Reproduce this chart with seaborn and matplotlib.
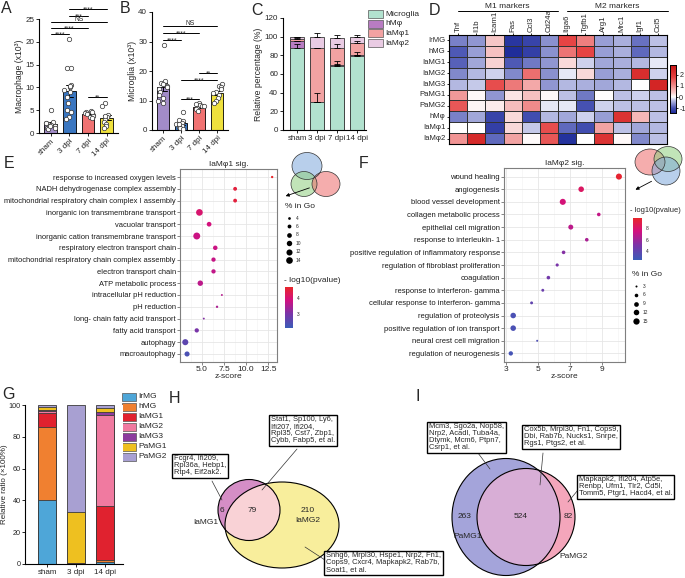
import numpy as np
import pandas as pd
import matplotlib
matplotlib.use("Agg")
import matplotlib.pyplot as plt
import seaborn as sns
from matplotlib.patches import Ellipse, Rectangle
from matplotlib.colors import LinearSegmentedColormap, Normalize
from matplotlib.cm import ScalarMappable
from matplotlib.ticker import MultipleLocator

# ---------------- data ----------------
groups = ["sham", "3 dpi", "7 dpi", "14 dpi"]
group_colors = ["#a28cc8", "#3a76c0", "#f07272", "#efe13d"]

mac_sham = [5.0, 2.5, 2.0, 1.8, 1.5, 1.2, 1.0, 0.8, 2.2, 1.6, 2.3]
mac_3dpi = [20.7, 14.3, 14.3, 10.5, 10.0, 9.5, 9.0, 8.0, 6.5, 5.0, 4.5, 3.5, 3.0, 10.2]
mac_7dpi = [4.8, 4.5, 4.3, 4.2, 4.0, 3.8, 3.5, 3.2, 4.6]
mac_14dpi = [6.5, 6.0, 4.0, 3.5, 3.0, 2.5, 2.0, 1.5, 1.0, 3.8]
sig_A = [(1, 3, 27.2, "****"), (1, 2, 25.7, "***"), (0, 3, 24.4, "NS"),
         (0, 2, 23.0, "****"), (0, 1, 21.7, "****"), (2, 3, 7.8, "**")]

mg_sham = [28.7, 16.5, 16.0, 15.5, 15.0, 14.5, 14.0, 13.0, 12.0, 11.0, 10.0, 9.0]
mg_3dpi = [6.0, 3.5, 3.0, 2.5, 2.0, 1.5, 1.0, 0.8, 2.2, 0.5]
mg_7dpi = [9.0, 8.8, 8.5, 8.0, 7.5, 7.0, 6.5, 8.2]
mg_14dpi = [15.5, 15.0, 14.5, 14.0, 13.0, 12.5, 12.0, 11.0, 10.0, 9.0]
sig_B = [(0, 3, 35.3, "NS"), (0, 2, 32.9, "****"), (0, 1, 30.5, "****"),
         (2, 3, 19.3, "**"), (1, 3, 16.9, "****"), (1, 2, 10.5, "***")]

C_layers = ["Microglia", "hMφ", "IaMφ1", "IaMφ2"]
C_colors = ["#b2e2cf", "#b87cc2", "#f2a2a2", "#e9cbe3"]
C_microglia = [88.0, 29.5, 69.0, 79.0]
C_hmf = [7.0, 0.5, 1.0, 1.0]
C_iamf1 = [3.0, 57.5, 18.0, 13.5]
C_iamf2 = [1.5, 12.0, 11.0, 6.0]
C_err_microglia = [4.0, 10.5, 4.5, 4.5]
C_err_hmf = [0.5, 0.3, 0.5, 0.5]
C_err_iamf1 = [0.5, 0.5, 4.0, 1.5]
C_err_iamf2 = [0.6, 4.5, 2.5, 2.5]

hm_rows = ["IrMG", "hMG", "IaMG1", "IaMG2", "IaMG3", "PaMG1", "PaMG2", "hMφ", "IaMφ1", "IaMφ2"]
hm_genes = ["Tnf", "Il1b", "Icam1", "Fas", "Ccl3", "Cd24a", "Itga6", "Tgfb1", "Arg1", "Mrc1", "Igf1", "Ccl5"]
z_IrMG = [-0.7, -0.55, 0.45, -1.3, -1.15, -0.6, 1.8, 1.2, -0.5, -0.4, -0.8, -0.3]
z_hMG = [-0.95, -0.5, 0.5, -1.4, -1.2, -0.6, 1.3, 1.8, -0.5, -0.4, -0.85, -0.35]
z_IaMG1 = [-0.9, -0.45, 0.35, -0.95, -0.75, -0.55, 0.3, -0.2, -0.45, -0.4, -0.35, -0.1]
z_IaMG2 = [-0.65, -0.35, -0.2, -0.65, 1.35, -0.6, -0.1, 0.3, -0.5, -0.4, 2.3, -0.2]
z_IaMG3 = [-0.35, -0.25, 1.7, 1.25, 0.75, -0.55, -0.35, -0.4, -0.45, -0.35, 0.0, 2.5]
z_PaMG1 = [0.9, 0.05, -0.55, 0.2, 0.5, 0.05, -0.3, -0.75, 0.02, -0.3, -0.2, -0.3]
z_PaMG2 = [1.6, 0.08, 0.15, 0.55, 1.05, -0.1, -0.1, -1.0, -0.2, -0.3, -0.3, -0.3]
z_hMf = [-0.7, -0.45, -1.15, 0.3, -1.05, -0.35, -0.45, -0.2, -0.5, 2.2, 0.6, -0.3]
z_IaMf1 = [0.0, 0.0, -1.2, 0.3, -0.25, 1.7, -0.85, -1.05, 0.8, -0.3, -0.45, -0.35]
z_IaMf2 = [0.95, 2.4, -0.85, 0.8, 0.03, 1.6, -1.35, 0.0, 2.2, 0.05, -0.65, -0.3]

E_terms = ["response to increased oxygen levels", "NADH dehydrogenase complex assembly",
           "mitochondrial respiratory chain complex I assembly", "inorganic ion transmembrane transport",
           "vacuolar transport", "inorganic cation transmembrane transport",
           "respiratory electron transport chain", "mitochondrial respiratory chain complex assembly",
           "electron transport chain", "ATP metabolic process", "intracellular pH reduction",
           "pH reduction", "long- chain fatty acid transport", "fatty acid transport",
           "autophagy", "macroautophagy"]
E_z = [12.95, 8.75, 8.75, 4.7, 5.8, 4.4, 6.5, 6.3, 6.3, 4.8, 7.25, 6.7, 5.2, 4.4, 3.1, 3.3]
E_pct = [3.5, 6, 6, 14, 8, 15, 7.5, 7, 7, 10, 3, 3.5, 3, 7, 12, 9]
E_logp = [4.8, 4.5, 4.5, 4.05, 3.9, 3.8, 3.8, 3.75, 3.7, 3.65, 3.6, 3.5, 3.1, 3.0, 2.6, 2.35]

F_terms = ["wound healing", "angiogenesis", "blood vessel development", "collagen metabolic process",
           "epithelial cell migration", "response to interleukin- 1",
           "positive regulation of inflammatory response", "regulation of fibroblast proliferation",
           "coagulation", "response to interferon- gamma", "cellular response to interferon- gamma",
           "regulation of proteolysis", "positive regulation of ion transport",
           "neural crest cell migration", "regulation of neurogenesis"]
F_z = [10.06, 7.7, 6.55, 8.8, 7.05, 8.05, 6.6, 6.2, 5.65, 5.3, 4.6, 3.45, 3.45, 4.95, 3.3]
F_pct = [14, 12, 14, 6, 10, 6, 6, 5, 6, 4.5, 4.5, 12, 12, 3, 8]
F_logp = [9.5, 8.2, 7.6, 7.0, 6.8, 6.3, 5.3, 5.0, 4.7, 4.4, 4.0, 3.2, 3.2, 3.3, 3.0]

G_groups = ["sham", "3 dpi", "14 dpi"]
G_layers = ["IrMG", "hMG", "IaMG1", "IaMG2", "IaMG3", "PaMG1", "PaMG2"]
G_colors = ["#4ea6d8", "#f08030", "#e0222f", "#f07aa0", "#8c3c9e", "#eec020", "#a8a0d2"]
G_IrMG = [40.5, 0.3, 1.2]
G_hMG = [45.5, 0.2, 1.3]
G_IaMG1 = [9.0, 0.0, 34.0]
G_IaMG2 = [1.0, 0.0, 57.0]
G_IaMG3 = [1.0, 0.0, 2.0]
G_PaMG1 = [1.5, 32.0, 2.5]
G_PaMG2 = [1.5, 67.5, 2.0]

H_sets = ["IaMG1", "IaMG2"]
H_counts = [6, 79, 210]
H_genes_only1 = "Fcgr4, Ifi209,\nRpl36a, Hebp1,\nRtp4, Eif2ak2."
H_genes_both = "Stat1, Sp100, Ly6,\nIfi207, Ifi204,\nRpl35, Cst7, Zbp1,\nCybb, Fabp5, et al."
H_genes_only2 = "Snhg6, Mrpl30, Hspe1, Nrp2, Fn1,\nCops9, Cxcr4, Mapkapk2, Rab7b,\nSoat1, et al."
I_sets = ["PaMG1", "PaMG2"]
I_counts = [263, 524, 82]
I_genes_only1 = "Mcm3, Sgo2a, Nop58,\nNrp2, Acadl, Tuba4a,\nDtymk, Mcm6, Ptpn7,\nCsrp1, et al."
I_genes_both = "Cox5b, Mrpl30, Fn1, Cops9,\nDbi, Rab7b, Nucks1, Snrpe,\nRgs1, Ptgs2, et al."
I_genes_only2 = "Mapkapk2, Ifi204, Atp5e,\nRenbp, Ufm1, Tlr2, Cd5l,\nTomm5, Ptgr1, Hacd4, et al."

# ---------------- setup ----------------
sns.set_theme(style="ticks")
plt.rcParams['font.family'] = ['Liberation Sans', 'DejaVu Sans']
plt.rcParams['axes.linewidth'] = 0.8
plt.rcParams['xtick.major.width'] = 0.7
plt.rcParams['ytick.major.width'] = 0.7
plt.rcParams['axes.edgecolor'] = 'black'
plt.rcParams['axes.unicode_minus'] = False

W, H = 685, 578
fig = plt.figure(figsize=(W / 100, H / 100), dpi=100)


def add_ax(x0, y0, x1, y1):
    return fig.add_axes([x0 / W, 1 - y1 / H, (x1 - x0) / W, (y1 - y0) / H])


ov = add_ax(0, 0, W, H)
ov.set_xlim(0, W)
ov.set_ylim(H, 0)
ov.axis('off')

for lab, x, y in [("A", 1, 1), ("B", 120, 1), ("C", 251, 3), ("D", 429, 3), ("E", 4, 156),
                  ("F", 359, 156), ("G", 2, 387), ("H", 169, 391), ("I", 416, 389)]:
    ov.text(x, y, lab, fontsize=11.5, va='top', ha='left')


# ---------------- A & B ----------------
def bar_panel(ax, vals, ymax, yticks, ylabel, sigs):
    df = pd.DataFrame({"group": np.repeat(groups, [len(v) for v in vals]),
                       "value": np.concatenate(vals)})
    sns.barplot(data=df, x="group", y="value", hue="group", palette=group_colors, order=groups,
                errorbar="se", capsize=0.4, err_kws={"linewidth": 0.7, "color": "black"},
                edgecolor="black", linewidth=0.6, width=0.68, saturation=1, ax=ax, legend=False)
    np.random.seed(3)
    sns.stripplot(data=df, x="group", y="value", order=groups, color="white", edgecolor="#333333",
                  linewidth=0.5, size=3.2, jitter=0.28, ax=ax, zorder=5)
    ax.set_ylim(0, ymax)
    ax.set_yticks(yticks)
    ax.set_xlim(-0.62, 3.6)
    sns.despine(ax=ax)
    ax.tick_params(axis='both', labelsize=5.8, length=2.5, pad=1)
    ax.set_xticks(range(4))
    ax.set_xticklabels(groups, rotation=45, ha='right', rotation_mode='anchor')
    ax.set_xlabel("")
    ax.set_ylabel(ylabel, fontsize=6.2, labelpad=1)
    for a, b, y, t in sigs:
        ax.plot([a, b], [y, y], color='black', lw=0.7, clip_on=False)
        off = -1.6 if t.startswith("*") else 0.5
        ax.annotate(t, ((a + b) / 2, y), xytext=(0, off), textcoords='offset points',
                    ha='center', va='baseline', fontsize=4.9, annotation_clip=False)


axA = add_ax(39, 19, 118, 133)
bar_panel(axA, [mac_sham, mac_3dpi, mac_7dpi, mac_14dpi], 25, [0, 5, 10, 15, 20, 25],
          "Macrophage (x10³)", sig_A)
axB = add_ax(152, 12, 228, 130)
bar_panel(axB, [mg_sham, mg_3dpi, mg_7dpi, mg_14dpi], 40, [0, 10, 20, 30, 40],
          "Microglia (x10³)", sig_B)


# ---------------- stacked helper ----------------
def stacked(ax, cats, layers, colors, width):
    cum = np.cumsum(np.array(layers, dtype=float), axis=0)
    for i in range(len(layers) - 1, -1, -1):
        sns.barplot(x=cats, y=cum[i], order=cats, color=colors[i], width=width, saturation=1,
                    edgecolor="#3a3a3a", linewidth=0.6, errorbar=None, ax=ax)
    return cum


# ---------------- C ----------------
axC = add_ax(283, 18, 366, 130)
cumC = stacked(axC, groups, [C_microglia, C_hmf, C_iamf1, C_iamf2], C_colors, 0.7)
for i, err in enumerate([C_err_microglia, C_err_hmf, C_err_iamf1, C_err_iamf2]):
    axC.errorbar(np.arange(4), cumC[i], yerr=[np.zeros(4), err], fmt='none', ecolor='black',
                 elinewidth=0.6, capsize=2.5, capthick=0.6, zorder=6)
axC.set_ylim(0, 120)
axC.set_yticks(range(0, 121, 20))
axC.set_xlim(-0.7, 3.45)
sns.despine(ax=axC)
axC.tick_params(axis='both', labelsize=5.8, length=2.5, pad=1)
axC.set_ylabel("Relative percentage (%)", fontsize=6.2, labelpad=1)
axC.set_xlabel("")
for k, (lab, col) in enumerate(zip(C_layers, C_colors)):
    y = 14 + k * 9.7
    ov.add_patch(Rectangle((368, y - 4), 15, 8, fc=col, ec='#555555', lw=0.5))
    ov.text(385, y, lab, fontsize=6, va='center', ha='left')

# ---------------- D ----------------
hm_vals = [z_IrMG, z_hMG, z_IaMG1, z_IaMG2, z_IaMG3, z_PaMG1, z_PaMG2, z_hMf, z_IaMf1, z_IaMf2]
dfD = pd.DataFrame(hm_vals, index=hm_rows, columns=hm_genes)
vmin, vmax = -1.45, 2.9
stops = [(-1.45, "#1c2a98"), (-1.0, "#4752b2"), (-0.5, "#9aa0d6"), (-0.2, "#cfd2ed"), (0.0, "#ffffff"),
         (0.4, "#f7caca"), (1.0, "#f09090"), (1.8, "#e64444"), (2.9, "#c81414")]
hm_cmap = LinearSegmentedColormap.from_list("hm", [((v - vmin) / (vmax - vmin), c) for v, c in stops])
axD = add_ax(449, 35, 667, 144)
caxD = add_ax(670, 65, 676, 113)
sns.heatmap(dfD, cmap=hm_cmap, vmin=vmin, vmax=vmax, linewidths=0.5, linecolor='#333333',
            xticklabels=True, yticklabels=True, cbar_ax=caxD, ax=axD)
axD.xaxis.tick_top()
axD.tick_params(axis='x', labelsize=5.6, rotation=90, length=1.5, pad=1)
axD.tick_params(axis='y', labelsize=5.6, rotation=0, length=1.5, pad=1)
for sp in axD.spines.values():
    sp.set_visible(True)
    sp.set_linewidth(0.8)
caxD.set_yticks([2, 1, 0, -1])
caxD.tick_params(labelsize=5.2, length=1.5, pad=0.8)
for sp in caxD.spines.values():
    sp.set_visible(True)
    sp.set_linewidth(0.6)
ov.text(507, 6, "M1 markers", fontsize=6, ha='center', va='center')
ov.plot([458, 558], [11, 11], color='black', lw=0.7)
ov.text(617, 6, "M2 markers", fontsize=6, ha='center', va='center')
ov.plot([567, 668], [11, 11], color='black', lw=0.7)

# ---------------- E & F ----------------
pcmap = LinearSegmentedColormap.from_list("pv", [(0, "#3a5cb8"), (0.35, "#7a34a8"),
                                                 (0.68, "#d21080"), (1, "#e8262a")])


def go_panel(ax, terms, z, pct, logp, pnorm, sizes, xlim, xticks, xlabels, minor, title, lfs):
    df = pd.DataFrame({"term": terms, "z": z, "pct": pct, "logp": logp})
    sns.scatterplot(data=df, x="z", y="term", hue="logp", palette=pcmap, hue_norm=pnorm,
                    size="pct", sizes=sizes, size_norm=(3, 15), linewidth=0, legend=False, ax=ax,
                    zorder=3)
    n = len(terms)
    ax.set_ylim(n - 1 + 0.68, -0.68)
    ax.set_xlim(*xlim)
    ax.set_xticks(xticks)
    ax.set_xticklabels(xlabels)
    ax.xaxis.set_minor_locator(MultipleLocator(minor))
    ax.grid(which='major', color='#e6e6e6', lw=0.6)
    ax.grid(which='minor', axis='x', color='#f1f1f1', lw=0.4)
    ax.set_axisbelow(True)
    for sp in ax.spines.values():
        sp.set_color('#7f7f7f')
        sp.set_linewidth(0.8)
    ax.tick_params(axis='y', labelsize=lfs, length=2, width=0.5, color='#555555', pad=1,
                   labelcolor='#1a1a1a')
    ax.tick_params(axis='x', labelsize=6, length=2, width=0.5, color='#555555', pad=1)
    ax.tick_params(axis='x', which='minor', length=0)
    ax.set_xlabel("z-score", fontsize=6, labelpad=0)
    ax.set_ylabel("")
    ax.set_title(title, fontsize=6, pad=2)


E_sizes = (1.9, 24.9)
F_sizes = (2.1, 20.6)
axE = add_ax(180, 169, 277, 362)
go_panel(axE, E_terms, E_z, E_pct, E_logp, (2.1, 4.7), E_sizes, (2.5, 13.5), [5, 7.5, 10, 12.5],
         ["5.0", "7.5", "10.0", "12.5"], 1.25, "IaMφ1 sig.", 5.4)
axF = add_ax(504, 168, 625, 362)
go_panel(axF, F_terms, F_z, F_pct, F_logp, (2.5, 9.7), F_sizes, (2.875, 10.44), [3, 5, 7, 9],
         ["3", "5", "7", "9"], 1, "IaMφ2 sig.", 5.5)


def s_of(p, sz):
    return sz[0] + (p - 3) / 12 * (sz[1] - sz[0])


# E legends
ov.text(285, 207, "% in Go", fontsize=6, va='center', ha='left')
for k, p in enumerate([4, 6, 8, 10, 12, 14]):
    y = 218 + k * 8.4
    ov.scatter([289], [y], s=s_of(p, E_sizes), color='black', lw=0)
    ov.text(296, y, str(p), fontsize=3.5, va='center')
ov.text(284, 280, "- log10(pvalue)", fontsize=6, va='center', ha='left')
caxE = add_ax(285, 287, 293, 328)
cbE = fig.colorbar(ScalarMappable(Normalize(2.1, 4.7), pcmap), cax=caxE)
cbE.set_ticks([3, 4])
cbE.outline.set_visible(False)
caxE.tick_params(labelsize=3.5, length=1.5, color='white', pad=1)

# F legends
ov.text(630, 211, "- log10(pvalue)", fontsize=5.4, va='center', ha='left')
caxF = add_ax(633, 218, 642, 260)
cbF = fig.colorbar(ScalarMappable(Normalize(2.5, 9.7), pcmap), cax=caxF)
cbF.set_ticks([4, 6, 8])
cbF.outline.set_visible(False)
caxF.tick_params(labelsize=3.5, length=1.5, color='white', pad=1)
ov.text(632, 275, "% in Go", fontsize=6, va='center', ha='left')
for k, p in enumerate([3, 6, 9, 12, 15]):
    y = 286 + k * 8.8
    ov.scatter([636], [y], s=s_of(p, F_sizes), color='black', lw=0)
    ov.text(643, y, str(p), fontsize=3.5, va='center')


# small venns
def venn3(circles):
    for (cx, cy, w, h, col) in circles:
        ov.add_patch(Ellipse((cx, cy), w, h, fc=col, ec='none', alpha=0.55))
    for (cx, cy, w, h, col) in circles:
        ov.add_patch(Ellipse((cx, cy), w, h, fc='none', ec='#333333', lw=0.5))


venn3([(307, 166, 30, 27, "#7fa8dc"), (304, 184, 26, 25, "#8fcf7f"), (326, 184, 28, 25, "#ee6a6a")])
ov.annotate("", xy=(283, 197), xytext=(312, 187),
            arrowprops=dict(arrowstyle='-|>', lw=0.6, color='black', mutation_scale=5))
venn3([(650, 162, 30, 26, "#ee6a6a"), (668, 159, 28, 25, "#8fcf7f"), (666, 171, 28, 28, "#7fa8dc")])
ov.annotate("", xy=(633, 191), xytext=(654, 180),
            arrowprops=dict(arrowstyle='-|>', lw=0.6, color='black', mutation_scale=5))

# ---------------- G ----------------
axG = add_ax(25, 405, 123, 564)
stacked(axG, G_groups, [G_IrMG, G_hMG, G_IaMG1, G_IaMG2, G_IaMG3, G_PaMG1, G_PaMG2], G_colors, 0.62)
axG.set_ylim(0, 100)
axG.set_yticks(range(0, 101, 20))
axG.set_xlim(-0.76, 2.62)
sns.despine(ax=axG)
axG.tick_params(axis='y', labelsize=5.2, length=2.5, pad=0.6)
axG.tick_params(axis='x', labelsize=5.8, length=2.5, pad=1)
axG.set_ylabel("Relative ratio (×100%)", fontsize=5.8, labelpad=0.5)
axG.set_xlabel("")
for k, (lab, col) in enumerate(zip(G_layers, G_colors)):
    y = 397 + k * 10
    ov.add_patch(Rectangle((122, y - 4), 14, 8, fc=col, ec='#555555', lw=0.5))
    ov.text(138, y, lab, fontsize=6, va='center', ha='left')


# ---------------- venn helpers ----------------
def venn2(c1, c2, col1, col2, colx):
    e2 = Ellipse(c2[:2], c2[2], c2[3], fc=col2, ec='none')
    ov.add_patch(e2)
    e1 = Ellipse(c1[:2], c1[2], c1[3], fc=col1, ec='none')
    ov.add_patch(e1)
    ex = Ellipse(c1[:2], c1[2], c1[3], fc=colx, ec='none')
    ov.add_patch(ex)
    ex.set_clip_path(e2)
    for c in (c1, c2):
        ov.add_patch(Ellipse(c[:2], c[2], c[3], fc='none', ec='black', lw=0.8))


box_kw = dict(boxstyle='square,pad=0.2', fc='white', ec='black', lw=1.0)
tfs = 5.4

# H
venn2((249, 510, 62, 61), (282, 525, 114, 86), "#d58ec6", "#f8ee9c", "#f9d2d6")
ov.text(222, 510, str(H_counts[0]), fontsize=6, ha='center', va='center')
ov.text(252, 510, str(H_counts[1]), fontsize=6, ha='center', va='center')
ov.text(308, 510, str(H_counts[2]), fontsize=6, ha='center', va='center')
ov.text(308, 521, H_sets[1], fontsize=6, ha='center', va='center')
ov.text(218, 523, H_sets[0], fontsize=6, ha='right', va='center')
ov.text(271, 416, H_genes_both, fontsize=tfs, ha='left', va='top', linespacing=1.0, bbox=box_kw)
ov.text(174, 455, H_genes_only1, fontsize=tfs, ha='left', va='top', linespacing=1.0, bbox=box_kw)
ov.text(326, 552, H_genes_only2, fontsize=tfs, ha='left', va='top', linespacing=1.0, bbox=box_kw)
ov.plot([297, 262], [449, 490], color='#333333', lw=0.5)
ov.plot([212, 222], [481, 500], color='#333333', lw=0.5)
ov.plot([325, 305], [560, 547], color='#333333', lw=0.5)

# I
venn2((526, 517, 98, 97), (506, 517, 108, 117), "#f4a6bb", "#a4a4da", "#d8aed6")
ov.text(465, 517, str(I_counts[0]), fontsize=6, ha='center', va='center')
ov.text(521, 517, str(I_counts[1]), fontsize=6, ha='center', va='center')
ov.text(568, 517, str(I_counts[2]), fontsize=6, ha='center', va='center')
ov.text(468, 536, I_sets[0], fontsize=6, ha='center', va='center')
ov.text(574, 557, I_sets[1], fontsize=6, ha='center', va='center')
ov.text(429, 423, I_genes_only1, fontsize=tfs, ha='left', va='top', linespacing=1.0, bbox=box_kw)
ov.text(524, 426, I_genes_both, fontsize=tfs, ha='left', va='top', linespacing=1.0, bbox=box_kw)
ov.text(579, 476, I_genes_only2, fontsize=tfs, ha='left', va='top', linespacing=1.0, bbox=box_kw)
ov.plot([478, 490], [453, 469], color='#333333', lw=0.5)
ov.plot([543, 540], [453, 485], color='#333333', lw=0.5)
ov.plot([578, 568], [490, 502], color='#333333', lw=0.5)

fig.savefig("out.png", dpi=100)
